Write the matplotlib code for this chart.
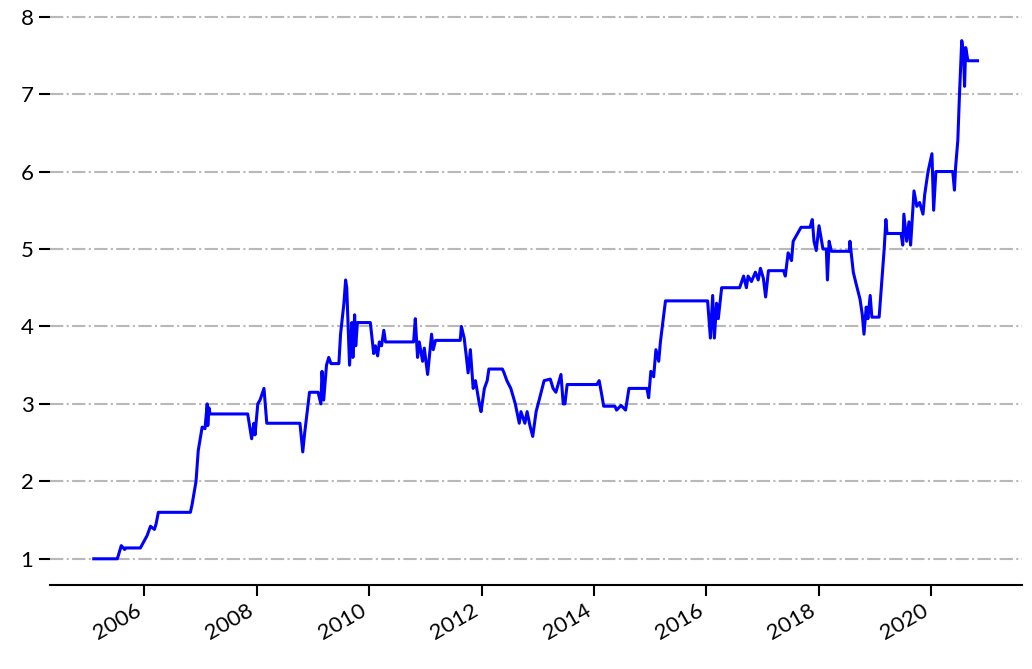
import matplotlib
matplotlib.use('Agg')
import matplotlib.pyplot as plt
import matplotlib.dates as mdates
import numpy as np
import pandas as pd

# valores (fecha en anos decimales, valor acumulado)
years = [2005.10, 2005.52, 2005.59, 2005.65, 2005.66, 2005.93, 2006.05, 2006.11, 2006.18, 2006.21,
         2006.25, 2006.82, 2006.85, 2006.92, 2006.96, 2007.03, 2007.08, 2007.12, 2007.13, 2007.15,
         2007.17, 2007.84, 2007.91, 2007.95, 2007.97, 2008.02, 2008.06, 2008.13, 2008.18, 2008.77,
         2008.82, 2008.85, 2008.94, 2009.09, 2009.14, 2009.16, 2009.19, 2009.24, 2009.28, 2009.32,
         2009.46, 2009.49, 2009.55, 2009.58, 2009.60, 2009.63, 2009.65, 2009.69, 2009.71, 2009.74,
         2009.76, 2009.79, 2010.02, 2010.08, 2010.11, 2010.15, 2010.18, 2010.22, 2010.26, 2010.29,
         2010.79, 2010.82, 2010.86, 2010.89, 2010.95, 2010.98, 2011.04, 2011.11, 2011.14, 2011.18,
         2011.62, 2011.64, 2011.69, 2011.73, 2011.76, 2011.80, 2011.85, 2011.89, 2011.96, 2011.99,
         2012.05, 2012.10, 2012.13, 2012.37, 2012.40, 2012.45, 2012.52, 2012.60, 2012.67, 2012.70,
         2012.77, 2012.81, 2012.86, 2012.91, 2012.97, 2013.04, 2013.11, 2013.22, 2013.27, 2013.32,
         2013.41, 2013.45, 2013.48, 2013.52, 2014.05, 2014.09, 2014.14, 2014.17, 2014.37, 2014.40,
         2014.48, 2014.56, 2014.62, 2014.94, 2014.97, 2015.01, 2015.06, 2015.10, 2015.15, 2015.18,
         2015.27, 2016.02, 2016.07, 2016.11, 2016.14, 2016.18, 2016.21, 2016.27, 2016.59, 2016.66,
         2016.71, 2016.74, 2016.80, 2016.87, 2016.92, 2016.96, 2017.01, 2017.05, 2017.10, 2017.37,
         2017.40, 2017.45, 2017.51, 2017.54, 2017.68, 2017.84, 2017.88, 2017.91, 2017.95, 2018.00,
         2018.07, 2018.13, 2018.15, 2018.18, 2018.22, 2018.54, 2018.55, 2018.61, 2018.66, 2018.73,
         2018.77, 2018.80, 2018.84, 2018.87, 2018.91, 2018.94, 2019.07, 2019.12, 2019.16, 2019.19,
         2019.21, 2019.46, 2019.49, 2019.51, 2019.56, 2019.60, 2019.63, 2019.69, 2019.74, 2019.79,
         2019.85, 2019.88, 2019.94, 2020.01, 2020.04, 2020.08, 2020.38, 2020.41, 2020.43, 2020.47,
         2020.50, 2020.54, 2020.57, 2020.59, 2020.61, 2020.65, 2020.82]
values = [1.00, 1.00, 1.17, 1.12, 1.14, 1.14, 1.30, 1.42, 1.38, 1.45,
          1.60, 1.60, 1.70, 2.00, 2.40, 2.70, 2.68, 3.00, 2.72, 2.95,
          2.87, 2.87, 2.55, 2.75, 2.60, 3.00, 3.05, 3.20, 2.75, 2.75,
          2.38, 2.60, 3.15, 3.15, 3.00, 3.42, 3.05, 3.50, 3.60, 3.52,
          3.52, 3.90, 4.30, 4.60, 4.50, 3.90, 3.50, 4.05, 3.60, 4.15,
          3.75, 4.05, 4.05, 3.65, 3.75, 3.62, 3.80, 3.75, 3.95, 3.80,
          3.80, 4.10, 3.60, 3.80, 3.55, 3.72, 3.38, 3.90, 3.70, 3.82,
          3.82, 4.00, 3.85, 3.60, 3.40, 3.70, 3.20, 3.30, 3.00, 2.90,
          3.20, 3.30, 3.45, 3.45, 3.40, 3.30, 3.20, 3.00, 2.75, 2.90,
          2.75, 2.90, 2.72, 2.58, 2.90, 3.10, 3.30, 3.32, 3.20, 3.15,
          3.38, 3.00, 3.00, 3.25, 3.25, 3.30, 3.10, 2.97, 2.97, 2.92,
          2.98, 2.92, 3.20, 3.20, 3.08, 3.42, 3.35, 3.70, 3.55, 3.80,
          4.33, 4.33, 3.85, 4.40, 3.85, 4.30, 4.10, 4.50, 4.50, 4.65,
          4.50, 4.65, 4.58, 4.70, 4.60, 4.75, 4.62, 4.38, 4.72, 4.72,
          4.65, 4.95, 4.85, 5.10, 5.28, 5.28, 5.38, 5.10, 4.98, 5.30,
          5.00, 5.00, 4.60, 5.10, 4.97, 4.97, 5.10, 4.70, 4.55, 4.35,
          4.15, 3.90, 4.25, 4.10, 4.40, 4.12, 4.12, 4.60, 5.00, 5.38,
          5.20, 5.20, 5.05, 5.45, 5.10, 5.35, 5.05, 5.75, 5.55, 5.60,
          5.45, 5.70, 6.00, 6.23, 5.50, 6.00, 6.00, 5.76, 6.05, 6.40,
          7.00, 7.69, 7.55, 7.10, 7.60, 7.43, 7.43]


def to_date(y):
    year = int(y)
    start = pd.Timestamp(year=year, month=1, day=1)
    return start + pd.Timedelta(days=(y - year) * 365.25)


dates = [to_date(y) for y in years]

plt.rcParams['font.family'] = ['Lato', 'DejaVu Sans']

fig = plt.figure(figsize=(10.32, 6.69), dpi=100)
ax = fig.add_axes([0.048, 0.126, 0.942, 0.852])

ax.plot(dates, values, color='#0000ff', linewidth=2.2)

ax.grid(axis='y', color='#b8b8b8', linestyle='-.', linewidth=1.5)
ax.set_axisbelow(True)
for s in ['top', 'right', 'left']:
    ax.spines[s].set_visible(False)
ax.spines['bottom'].set_linewidth(1.5)

ax.set_yticks(np.arange(1, 9))
ax.xaxis.set_major_locator(mdates.YearLocator(2))
ax.xaxis.set_major_formatter(mdates.DateFormatter('%Y'))
ax.tick_params(axis='both', labelsize=16, length=8, width=1.5)
plt.setp(ax.get_xticklabels(), rotation=30, ha='right')

fig.savefig('out.png', dpi=100)
